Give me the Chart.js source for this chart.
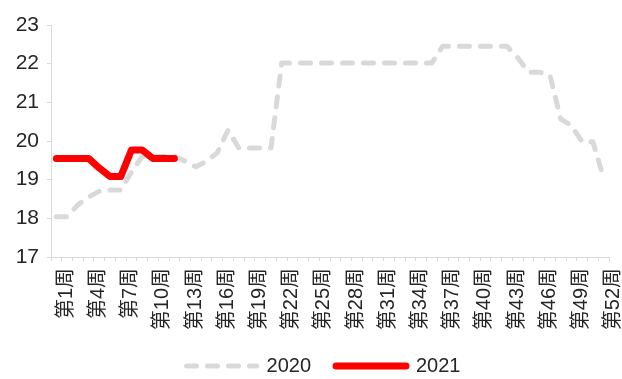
<!DOCTYPE html>
<html>
<head>
<meta charset="utf-8">
<script src="https://cdn.jsdelivr.net/npm/chart.js@4/dist/chart.umd.min.js"></script>
<style>
  html, body { margin: 0; padding: 0; background: #fff; }
  #wrap { width: 622px; height: 379px; position: relative; }
</style>
</head>
<body>
<div id="wrap"><canvas id="c"></canvas></div>
<script>
// ---- data ----
const weeks = [];
for (let i = 1; i <= 52; i++) weeks.push('第' + i + '周');

const y2020 = [
  18.04, 18.04, 18.35, 18.55, 18.70, 18.73, 18.73, 19.20, 19.60, 19.60,
  19.60, 19.60, 19.48, 19.33, 19.48, 19.70, 20.28, 19.82, 19.82, 19.82,
  19.82, 22.02, 22.02, 22.02, 22.02, 22.02, 22.02, 22.02, 22.02, 22.02,
  22.02, 22.02, 22.02, 22.02, 22.02, 22.02, 22.45, 22.45, 22.45, 22.45,
  22.45, 22.45, 22.45, 22.15, 21.78, 21.78, 21.70, 20.57, 20.40, 19.98,
  19.98, 19.04
];
const y2021 = [19.55, 19.55, 19.55, 19.55, 19.30, 19.08, 19.08, 19.77, 19.77, 19.55, 19.55, 19.55];

const yMin = 17, yMax = 23;

const FONT = "'Liberation Sans', Arial, 'Noto Sans CJK SC', sans-serif";
const AXIS_GRAY = '#d9d9d9';

// legend: keep dash / width / caps of the line itself
function legendLabels(chart) {
    const items = Chart.defaults.plugins.legend.labels.generateLabels(chart);
    return items.map(item => {
        const ds = chart.data.datasets[item.datasetIndex];
        item.lineDash = ds.borderDash || [];
        item.lineWidth = ds.borderWidth;
        item.lineCap = ds.borderCapStyle;
        item.strokeStyle = ds.borderColor;
        return item;
    });
}

// legend takes a fixed slot at the bottom, then is nudged into place
const legendPlace = {
    id: 'legendPlace',
    beforeLayout(chart) {
        const lg = chart.legend;
        if (lg && !lg._fixed) {
            const fit = lg.fit;
            lg.fit = function() { fit.call(this); this.height = 37; };
            lg._fixed = true;
        }
    },
    afterLayout(chart) {
        const lg = chart.legend;
        if (!lg) return;
        lg.top -= 11;
        lg.bottom = chart.height;
        lg.left += 19; lg.right += 19;
    }
};

new Chart(document.getElementById('c'), {
    type: 'line',
    data: {
        labels: weeks,
        datasets: [
            {
                label: '2020',
                data: y2020,
                borderColor: '#d9d9d9',
                backgroundColor: '#d9d9d9',
                borderWidth: 5,
                borderDash: [10, 11],
                borderCapStyle: 'round',
                borderJoinStyle: 'round',
                pointRadius: 0,
                tension: 0,
                order: 1
            },
            {
                label: '2021',
                data: y2021,
                borderColor: '#ff0000',
                backgroundColor: '#ff0000',
                borderWidth: 7,
                borderCapStyle: 'round',
                borderJoinStyle: 'round',
                pointRadius: 0,
                tension: 0,
                order: 0
            }
        ]
    },
    options: {
        responsive: true,
        maintainAspectRatio: false,
        animation: false,
        layout: { padding: { top: 25, right: 13, left: 0, bottom: 0 } },
        scales: {
            x: {
                offset: true,
                grid: { offset: true, drawOnChartArea: false, color: AXIS_GRAY, tickLength: 4 },
                border: { color: AXIS_GRAY, width: 1 },
                ticks: {
                    autoSkip: false,
                    minRotation: 90,
                    maxRotation: 90,
                    padding: 7,
                    labelOffset: 10,
                    color: '#262626',
                    font: { family: FONT, size: 20 },
                    callback: function(val, idx) { return idx % 3 === 0 ? this.getLabelForValue(val) : ''; }
                },
                afterFit: function(scale) {
                    scale.height = 85;
                    scale.paddingLeft = 0;
                    scale.paddingRight = 0;
                }
            },
            y: {
                min: yMin,
                max: yMax,
                grid: { drawOnChartArea: false, color: AXIS_GRAY, tickLength: 4 },
                border: { color: AXIS_GRAY, width: 1 },
                ticks: {
                    stepSize: 1,
                    padding: 8,
                    color: '#262626',
                    font: { family: FONT, size: 21 }
                },
                afterFit: function(scale) { scale.width = 51; }
            }
        },
        plugins: {
            tooltip: { enabled: false },
            legend: {
                position: 'bottom',
                labels: {
                    usePointStyle: true,
                    pointStyle: 'line',
                    pointStyleWidth: 70,
                    padding: 25,
                    color: '#262626',
                    font: { family: FONT, size: 20 },
                    generateLabels: legendLabels,
                    sort: (a, b) => a.datasetIndex - b.datasetIndex
                }
            }
        }
    },
    plugins: [legendPlace]
});
</script>
</body>
</html>
